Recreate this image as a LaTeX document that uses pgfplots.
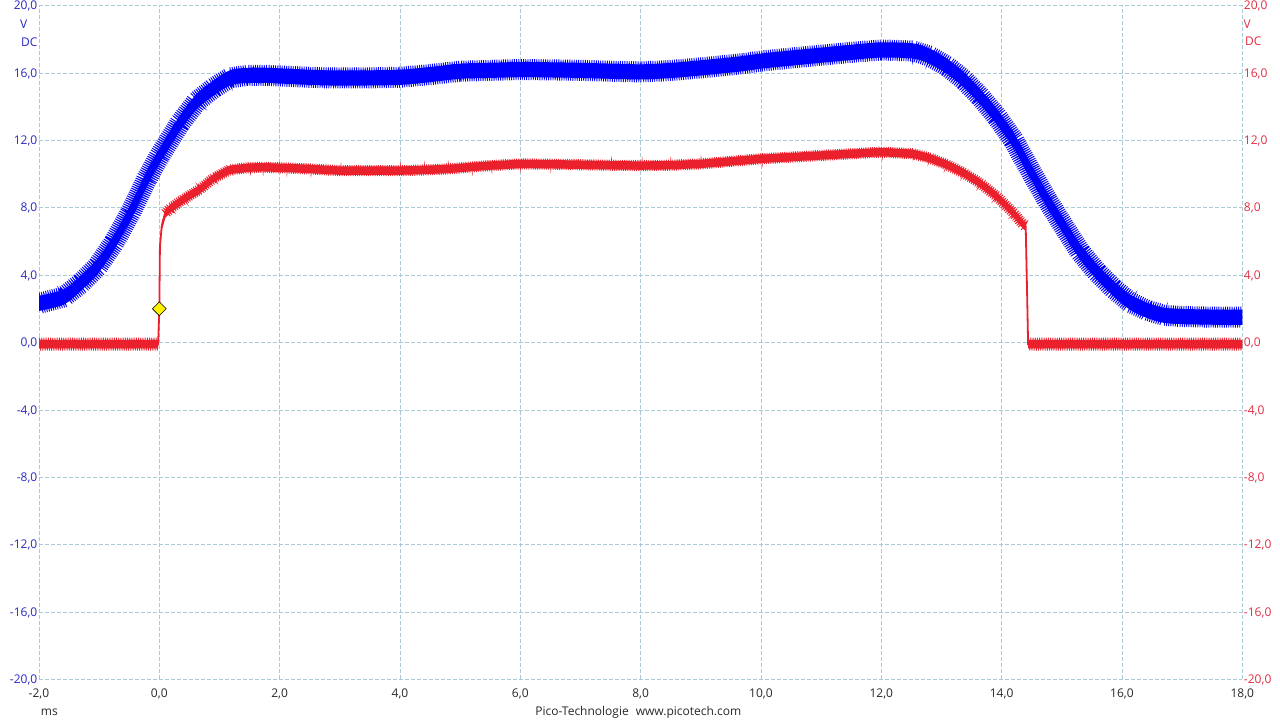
\documentclass[border=0pt]{standalone}
\usepackage{fontspec}
\setmainfont{Open Sans}
\usepackage{pgfplots}
\pgfplotsset{compat=1.18}
\usepackage{pgfplotstable}
\usepgfplotslibrary{fillbetween}
\usetikzlibrary{decorations.pathmorphing}

\definecolor{tblue}{RGB}{0,0,255}
\definecolor{tred}{RGB}{235,32,45}
\definecolor{lblue}{RGB}{40,40,195}
\definecolor{lred}{RGB}{225,45,65}
\definecolor{gridc}{RGB}{168,203,213}
\definecolor{txt}{RGB}{40,40,40}

\pgfplotstableread{
t v
-2.00 2.32
-1.59 2.70
-1.31 3.50
-1.03 4.50
-0.76 5.90
-0.48 7.70
-0.21 9.70
0.00 11.05
0.34 13.00
0.62 14.30
0.90 15.10
1.17 15.70
1.45 15.85
1.80 15.85
2.11 15.80
2.50 15.74
2.85 15.70
3.40 15.70
4.00 15.74
4.50 15.90
5.00 16.10
5.50 16.15
6.00 16.20
6.50 16.18
7.00 16.15
7.50 16.10
8.00 16.06
8.40 16.12
8.70 16.20
9.30 16.40
9.70 16.55
10.00 16.70
10.50 16.88
11.00 17.05
11.50 17.22
12.00 17.36
12.53 17.30
12.80 17.00
13.09 16.40
13.37 15.60
13.64 14.60
13.92 13.40
14.20 12.00
14.47 10.25
14.75 8.50
15.03 6.90
15.30 5.40
15.58 4.20
15.86 3.20
16.13 2.40
16.41 1.92
16.69 1.62
16.95 1.55
17.24 1.52
17.60 1.50
18.00 1.50
}\bluedata

\pgfplotstableread{
t v
-2.00 -0.10
-1.50 -0.10
-1.00 -0.10
-0.50 -0.10
-0.02 -0.10
0.00 2.00
0.01 5.70
0.04 6.90
0.10 7.65
0.18 7.95
0.40 8.50
0.68 9.10
0.90 9.75
1.17 10.25
1.50 10.38
1.72 10.40
2.10 10.36
2.50 10.30
3.00 10.20
3.50 10.20
4.00 10.20
4.40 10.24
4.80 10.30
5.20 10.42
5.50 10.50
6.00 10.60
6.50 10.58
7.00 10.55
7.50 10.52
8.00 10.50
8.50 10.52
9.00 10.60
9.50 10.75
10.00 10.90
10.50 11.00
11.00 11.10
11.50 11.20
12.00 11.30
12.53 11.20
12.80 10.95
13.09 10.55
13.37 10.06
13.64 9.46
13.92 8.67
14.20 7.68
14.36 6.98
14.40 6.90
14.42 3.50
14.44 -0.10
14.90 -0.10
15.40 -0.10
15.90 -0.10
16.40 -0.10
16.90 -0.10
17.40 -0.10
18.00 -0.10
}\reddata

\pgfplotsset{
  scopegeom/.style={
    at={(39bp,40.5bp)}, anchor=south west,
    scale only axis, width=1203.3bp, height=674bp,
    xmin=-2, xmax=18, ymin=-20, ymax=20,
    ytick={-20,-16,...,20},
    axis line style={draw=none}, major tick length=0pt,
    /pgf/number format/use comma,
    /pgf/number format/fixed,
    /pgf/number format/fixed zerofill,
    /pgf/number format/precision=1,
    /pgf/number format/assume math mode=true,
  },
}

\begin{document}
\begin{tikzpicture}[font=\fontsize{12bp}{14bp}\selectfont]
\begin{axis}[
  scopegeom,
  xtick={-2,0,...,18},
  grid=major,
  major grid style={gridc, dash pattern=on 4bp off 2bp, line width=0.7bp},
  yticklabel style={lblue, anchor=base east, inner sep=0pt, xshift=-1.5bp, yshift=-4.2bp},
  xticklabel style={txt, anchor=base, inner sep=0pt, yshift=-17.8bp},
]
% blue trace: solid core of the noise band plus its serrated edges
\addplot[name path=bu, draw=none, smooth, forget plot] table[x=t, y expr=\thisrow{v}+0.45]{\bluedata};
\addplot[name path=bl, draw=none, smooth, forget plot] table[x=t, y expr=\thisrow{v}-0.45]{\bluedata};
\addplot[tblue, forget plot] fill between[of=bu and bl];
\addplot[tblue, line width=0.8bp, decorate,
  decoration={zigzag, segment length=2.2bp, amplitude=10.5bp}] table[x=t, y=v]{\bluedata};

% red trace
\addplot[name path=ru, draw=none, forget plot] table[x=t, y expr=\thisrow{v}+0.25]{\reddata};
\addplot[name path=rl, draw=none, forget plot] table[x=t, y expr=\thisrow{v}-0.25]{\reddata};
\addplot[tred, forget plot] fill between[of=ru and rl];
\addplot[tred, line width=1.8bp] table[x=t, y=v]{\reddata};
\addplot[tred, line width=0.8bp, forget plot, restrict x to domain=-2:-0.01, decorate,
  decoration={zigzag, segment length=2.2bp, amplitude=6.5bp}] table[x=t, y=v]{\reddata};
\addplot[tred, line width=0.8bp, forget plot, restrict x to domain=0.05:14.41, decorate,
  decoration={zigzag, segment length=2.2bp, amplitude=5.5bp}] table[x=t, y=v]{\reddata};
\addplot[tred, line width=0.8bp, forget plot, restrict x to domain=14.43:18, decorate,
  decoration={zigzag, segment length=2.2bp, amplitude=6.5bp}] table[x=t, y=v]{\reddata};

\addplot[only marks, mark=square*, mark size=4.9bp,
  mark options={rotate=45, fill=yellow, draw=black, line width=0.6bp}]
  coordinates {(0,2.0)};
\end{axis}
\begin{axis}[
  scopegeom,
  xtick=\empty,
  yticklabel pos=right,
  yticklabel style={lred, anchor=base west, inner sep=0pt, xshift=1.5bp, yshift=-4.2bp},
]
\addplot[draw=none] coordinates {(0,0)};
\end{axis}
\node[lblue, anchor=base west, inner sep=0pt] at (20bp,691.7bp) {V};
\node[lblue, anchor=base west, inner sep=0pt] at (21bp,673.3bp) {DC};
\node[lred, anchor=base west, inner sep=0pt] at (1243.3bp,691.7bp) {V};
\node[lred, anchor=base west, inner sep=0pt] at (1245bp,674.3bp) {DC};
\node[txt, anchor=base west, inner sep=0pt] at (40.7bp,5bp) {ms};
\node[txt, anchor=base, inner sep=0pt] at (638.3bp,5bp) {Pico-Technologie\hspace{7bp}www.picotech.com};
\pgfresetboundingbox
\path (0,0) rectangle (1280bp,720bp);
\end{tikzpicture}
\end{document}
